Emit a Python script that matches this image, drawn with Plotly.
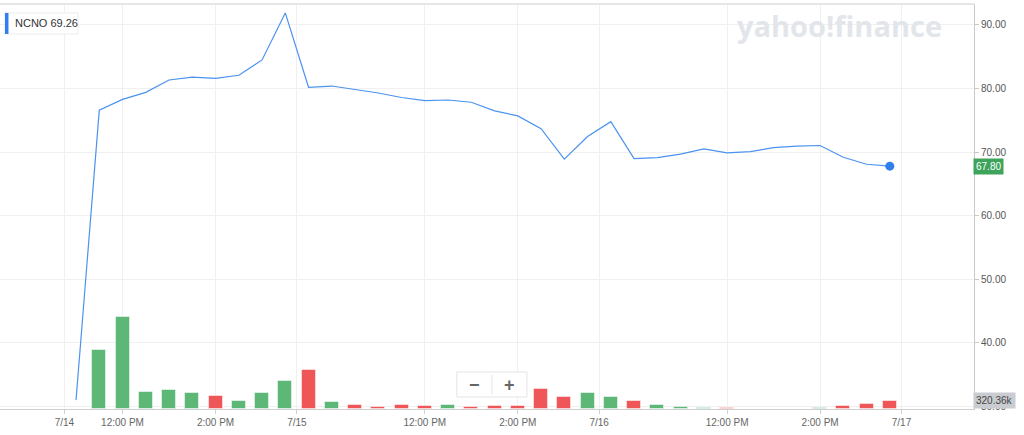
import plotly.graph_objects as go

# half-hour buckets: 7/14 11:00-15:30, 7/15 and 7/16 9:30-15:30
slot = list(range(36))

price = [31.0, 76.6, 78.3, 79.4, 81.35, 81.8, 81.6, 82.1, 84.5, 91.9,
         80.2, 80.4, 79.85, 79.3, 78.6, 78.1, 78.2, 77.85, 76.5, 75.7,
         73.7, 68.9, 72.45, 74.8, 69.0, 69.15, 69.7, 70.5, 69.9, 70.1,
         70.7, 70.95, 71.05, 69.2, 68.1, 67.8]

# volume in thousands of shares
volume = [0, 2280, 3550, 656, 733, 618, 502, 309, 618, 1081,
          1505, 270, 166, 89, 166, 127, 166, 89, 127, 127,
          784, 452, 629, 452, 320, 154, 89, 50, 27, 19,
          19, 19, 50, 127, 181, 320.36]

up = [1, 1, 1, 1, 1, 1, 0, 1, 1, 1,
      0, 1, 0, 0, 0, 0, 1, 0, 0, 0,
      0, 0, 1, 1, 0, 1, 1, 1, 0, 1,
      1, 1, 1, 0, 0, 0]

tick_pos = [-0.5, 2, 6, 9.5, 15, 19, 22.5, 28, 32, 35.5]
tick_text = ["7/14", "12:00 PM", "2:00 PM", "7/15", "12:00 PM", "2:00 PM",
             "7/16", "12:00 PM", "2:00 PM", "7/17"]

price_ticks = [30, 40, 50, 60, 70, 80, 90]

GREEN = "#5db776"
RED = "#ef5658"
BLUE = "#4b93ef"

fig = go.Figure()

fig.add_trace(go.Bar(
    x=slot, y=volume, yaxis="y2", width=0.6,
    marker=dict(color=[GREEN if u else RED for u in up],
                line=dict(color="rgba(255,255,255,0.5)", width=1)),
    hoverinfo="skip",
))

fig.add_trace(go.Scatter(
    x=slot, y=price, mode="lines",
    line=dict(color=BLUE, width=1.2),
))

fig.add_trace(go.Scatter(
    x=[slot[-1]], y=[price[-1]], mode="markers",
    marker=dict(color="#2f7fef", size=9),
))

fig.update_layout(
    width=1024, height=435,
    margin=dict(l=0, r=50, t=4, b=26),
    paper_bgcolor="white", plot_bgcolor="white",
    showlegend=False,
    font=dict(family="Liberation Sans, Arial, sans-serif", size=10, color="#555"),
    xaxis=dict(
        range=[-3.27, 38.62], tickvals=tick_pos, ticktext=tick_text,
        showgrid=True, gridcolor="#f0f0f0", zeroline=False,
        showline=True, linecolor="#cfcfcf", ticks="outside", ticklen=4,
        tickcolor="#cfcfcf", tickfont=dict(size=10, color="#666"),
    ),
    yaxis=dict(
        side="right", range=[29.61, 93.3], tickvals=price_ticks,
        tickformat=".2f", showgrid=True, gridcolor="#f0f0f0", zeroline=False,
        showline=True, linecolor="#c8c8c8", ticks="outside", ticklen=4,
        tickcolor="#c8c8c8", tickfont=dict(size=10, color="#555"),
    ),
    yaxis2=dict(overlaying="y", range=[0, 15633], visible=False),
    bargap=0,
)

# top border
fig.add_shape(type="line", xref="paper", yref="paper", x0=0, x1=1, y0=1, y1=1,
              line=dict(color="#e6e6e6", width=2))

# symbol badge top-left
fig.add_shape(type="rect", xref="paper", yref="paper",
              x0=0.0051, x1=0.0801, y0=0.926, y1=0.978,
              line=dict(color="#ececec", width=1), fillcolor="white", layer="above")
fig.add_shape(type="rect", xref="paper", yref="paper",
              x0=0.0051, x1=0.0087, y0=0.926, y1=0.978,
              line=dict(width=0), fillcolor="#2f7fef", layer="above")
fig.add_annotation(xref="paper", yref="paper", x=0.0135, y=0.952,
                   xanchor="left", yanchor="middle", showarrow=False,
                   text="NCNO 69.26", font=dict(size=11, color="#333"))

# watermark
fig.add_annotation(xref="paper", yref="paper", x=0.755, y=0.946,
                   xanchor="left", yanchor="middle", showarrow=False,
                   text="<b>yahoo!finance</b>",
                   font=dict(family="Open Sans, sans-serif", size=29, color="#e2e6eb"))

# last price / volume badges
fig.add_annotation(xref="paper", yref="y", x=0.999, y=price[-1],
                   xanchor="left", yanchor="middle", showarrow=False,
                   text="67.80", bgcolor="#3ea35b", borderpad=2,
                   font=dict(size=10, color="white"))
fig.add_annotation(xref="paper", yref="y2", x=0.999, y=volume[-1],
                   xanchor="left", yanchor="middle", showarrow=False,
                   text="320.36k", bgcolor="#c9ccd1", borderpad=2,
                   font=dict(size=10, color="#444"))

# zoom control
fig.add_shape(type="rect", xref="paper", yref="paper",
              x0=0.469, x1=0.541, y0=0.0296, y1=0.0914,
              line=dict(color="#e4e4e4", width=1), fillcolor="white", layer="above")
fig.add_shape(type="line", xref="paper", yref="paper",
              x0=0.505, x1=0.505, y0=0.037, y1=0.084,
              line=dict(color="#e4e4e4", width=1), layer="above")
fig.add_annotation(xref="paper", yref="paper", x=0.487, y=0.06,
                   xanchor="center", yanchor="middle", showarrow=False,
                   text="<b>−</b>", font=dict(size=18, color="#666"))
fig.add_annotation(xref="paper", yref="paper", x=0.523, y=0.06,
                   xanchor="center", yanchor="middle", showarrow=False,
                   text="<b>+</b>", font=dict(size=18, color="#666"))

# page body has a default 8px margin; drop it so the chart sits flush
fig.write_html("out.html", config={"displayModeBar": False},
               post_script="document.body.style.margin='0';")
